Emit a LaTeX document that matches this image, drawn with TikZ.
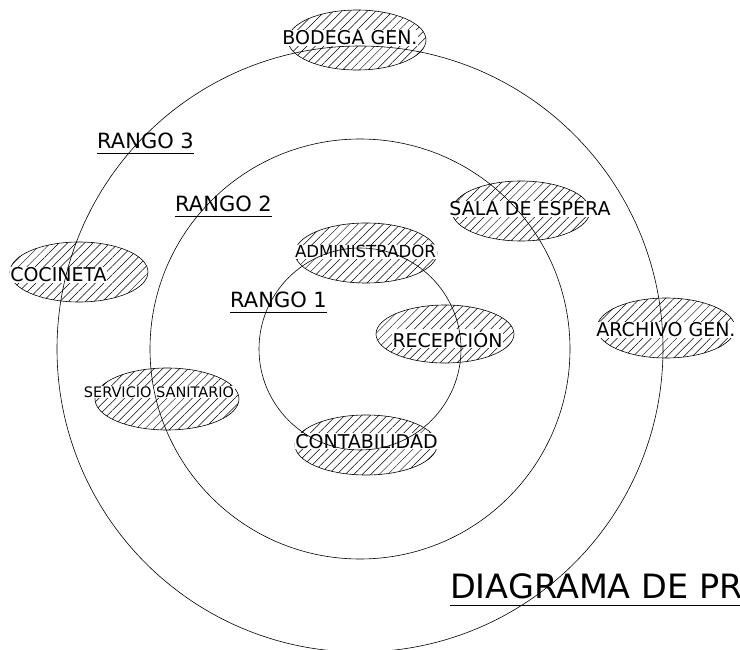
\documentclass[tikz,border=0pt]{standalone}
\usepackage{fontspec}
\setmainfont{DejaVu Sans}
\usetikzlibrary{shapes.geometric, patterns.meta}

\begin{document}
\begin{tikzpicture}[
        x=1pt, y=-1pt,
        zona/.style={ellipse, draw, line width=0.6pt, inner sep=0pt, minimum width=138pt, minimum height=60pt,
            pattern={Lines[angle=45, distance=6pt, line width=0.5pt]}},
        etiq/.style={fill=white, inner sep=0.6pt, anchor=base, font=\fontsize{19}{19}\selectfont},
        rango/.style={inner sep=0pt, anchor=base west, font=\fontsize{21}{21}\selectfont},
        anillo/.style={line width=0.6pt}
    ]
    \clip (0,0) rectangle (740,650);

    % zonas
    \node[zona] (bodega) at (357,40) {};
    \node[zona] (sala) at (521,211) {};
    \node[zona, minimum width=142pt] (admin) at (366,253) {};
    \node[zona] (cocineta) at (79,272) {};
    \node[zona, minimum height=58pt] (recepcion) at (445,334) {};
    \node[zona] (archivo) at (666,328) {};
    \node[zona, minimum width=144pt, minimum height=62pt] (sanitario) at (167,399) {};
    \node[zona, minimum width=142pt] (contab) at (366,445) {};

    \node[etiq] (bodegaT) at (350,45) {BODEGA GEN.};
    \node[etiq] (salaT) at (530,216) {SALA DE ESPERA};
    \node[etiq, font=\fontsize{16.6}{16.6}\selectfont] (adminT) at (365.5,258) {ADMINISTRADOR};
    \node[etiq] (cocinetaT) at (58.5,282) {COCINETA};
    \node[etiq] (recepcionT) at (447.5,347) {RECEPCIÓN};
    \node[etiq] (archivoT) at (666,337) {ARCHIVO GEN.};
    \node[etiq, font=\fontsize{14.5}{14.5}\selectfont] (sanitarioT) at (159,397) {SERVICIO SANITARIO};
    \node[etiq] (contabT) at (366.5,448) {CONTABILIDAD};

    % rangos
    \coordinate (c) at (360,349);
    \draw[anillo] (c) circle[radius=303pt];
    \draw[anillo] (c) circle[radius=210pt];
    \draw[anillo] (c) circle[radius=101pt];

    \node[rango] (r3) at (97,149) {RANGO 3};
    \node[rango] (r2) at (175,212) {RANGO 2};
    \node[rango] (r1) at (230,308) {RANGO 1};
    \foreach \r in {r3, r2, r1}
        \draw[line width=0.7pt] ([yshift=-4.5pt]\r.base west) -- ([yshift=-4.5pt]\r.base east);

    \node[rango, font=\fontsize{33.5}{33.5}\selectfont] (titulo) at (450,598) {DIAGRAMA DE PR};
    \coordinate (borde) at (740,605);
    \draw[line width=0.7pt] ([yshift=-7pt]titulo.base west) -- (borde);
\end{tikzpicture}
\end{document}
